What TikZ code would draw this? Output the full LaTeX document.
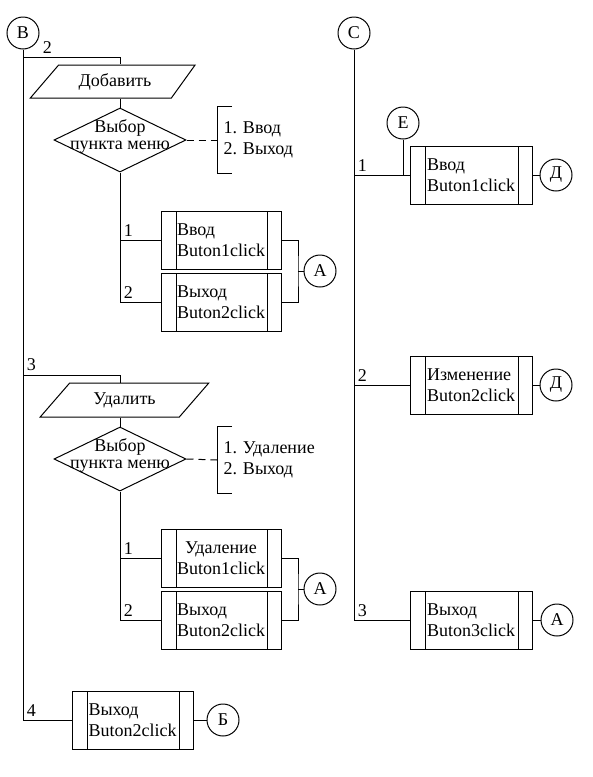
\documentclass[tikz,border=0pt]{standalone}
\usepackage{fontspec}
\setmainfont{Liberation Serif}
\usetikzlibrary{shapes.geometric}

\begin{document}
\begin{tikzpicture}[x=1pt, y=-1pt, line width=1pt,
    every node/.style={font=\fontsize{18}{21}\selectfont},
    conn/.style={circle, draw, minimum size=32pt, inner sep=0pt},
    io/.style={trapezium, draw, trapezium stretches=true, minimum height=34pt, inner sep=1pt},
    menu/.style={diamond, draw, minimum width=132pt, minimum height=64pt, inner sep=0pt,
      label={[align=center, yshift=4pt, font=\fontsize{18}{17}\selectfont]center:Выбор\\пункта меню}},
    proc/.style={draw, minimum width=120pt, minimum height=58pt, inner sep=0pt, align=left,
      path picture={\draw ([xshift=15pt]path picture bounding box.north west) -- ([xshift=15pt]path picture bounding box.south west)
        ([xshift=-14pt]path picture bounding box.north east) -- ([xshift=-14pt]path picture bounding box.south east);}},
    list/.style={anchor=west, minimum height=66pt, inner xsep=6pt, align=left},
    opt/.style={dash pattern=on 7pt off 5pt}]
  \useasboundingbox (0,0) rectangle (593,777);
  % left column
  \node[conn] (cB) at (23,33) {В};
  \node[io, trapezium left angle=45, trapezium right angle=130, minimum width=165pt, minimum height=33pt] (add) at (115,81.5) {Добавить};
  \node[menu] (d1) at (120,140) {};
  \node[list] (l1) at (217,140) {1. Ввод\\2. Выход};
  \node[proc] (b1) at (221,240) {Ввод\\Buton1click};
  \node[proc] (b2) at (221,302) {Выход\\Buton2click};
  \node[conn] (a1) at (320,271) {А};
  \coordinate (j1) at (298,271);
  \node[io, trapezium left angle=45, trapezium right angle=135, minimum width=169pt] (del) at (124.5,400) {Удалить};
  \node[menu] (d2) at (120,459) {};
  \node[list] (l2) at (217,460) {1. Удаление\\2. Выход};
  \node[proc, align=center] (b3) at (221,558) {Удаление\\Buton1click};
  \node[proc] (b4) at (221,620) {Выход\\Buton2click};
  \node[conn] (a2) at (320,589) {А};
  \coordinate (j2) at (298,589);
  \node[proc, minimum width=121pt] (b5) at (132.5,720) {Выход\\Buton2click};
  \node[conn] (cb) at (223,720) {Б};
  % right column
  \node[conn] (cC) at (354,33) {С};
  \node[conn] (cE) at (403,123) {Е};
  \node[proc, minimum width=122pt] (q1) at (471,175) {Ввод\\Buton1click};
  \node[conn] (dd1) at (556,175) {Д};
  \node[proc, minimum width=122pt] (q2) at (471,385) {Изменение\\Buton2click};
  \node[conn] (dd2) at (556,385) {Д};
  \node[proc, minimum width=122pt] (q3) at (471,620) {Выход\\Buton3click};
  \node[conn] (a3) at (557,620) {А};

  \draw (cB) -- (cB |- b5) node[above right] (n4) {4} -- (b5);
  \draw (b5) -- (cb);
  \draw (cB |- 0,57) node[above right, xshift=16pt] (n2) {2} -| (add.north -| d1.north);
  \draw (add.south -| d1.north) -- (d1.north);
  \draw[opt] (d1.east) -- (l1.west);
  \draw ([xshift=15pt]l1.north west) -- (l1.north west) -- (l1.south west) -- ([xshift=15pt]l1.south west);
  \draw (d1.south) |- (b2.west) node[pos=0.5, above right] (n12) {2};
  \draw (d1 |- b1.west) node[above right] (n11) {1} -- (b1.west);
  \draw (b1.east) -| (j1) |- (b2.east);
  \draw (j1) -- (a1);
  \draw (cB |- 0,375) node[above right] (n3) {3} -| (del.north -| d2.north);
  \draw (del.south -| d2.north) -- (d2.north);
  \draw[opt] (d2.east) -- (l2.west);
  \draw ([xshift=15pt]l2.north west) -- (l2.north west) -- (l2.south west) -- ([xshift=15pt]l2.south west);
  \draw (d2.south) |- (b4.west) node[pos=0.5, above right] (n22) {2};
  \draw (d2 |- b3.west) node[above right] (n21) {1} -- (b3.west);
  \draw (b3.east) -| (j2) |- (b4.east);
  \draw (j2) -- (a2);

  \draw (cC) -- (cC |- q3) node[above right] (r3) {3} -- (q3);
  \draw (cC |- q1) node[above right] (r1) {1} -- (q1);
  \draw (cC |- q2) node[above right] (r2) {2} -- (q2);
  \draw (cE) -- (cE |- q1);
  \draw (q1) -- (dd1);
  \draw (q2) -- (dd2);
  \draw (q3) -- (a3);
\end{tikzpicture}
\end{document}
